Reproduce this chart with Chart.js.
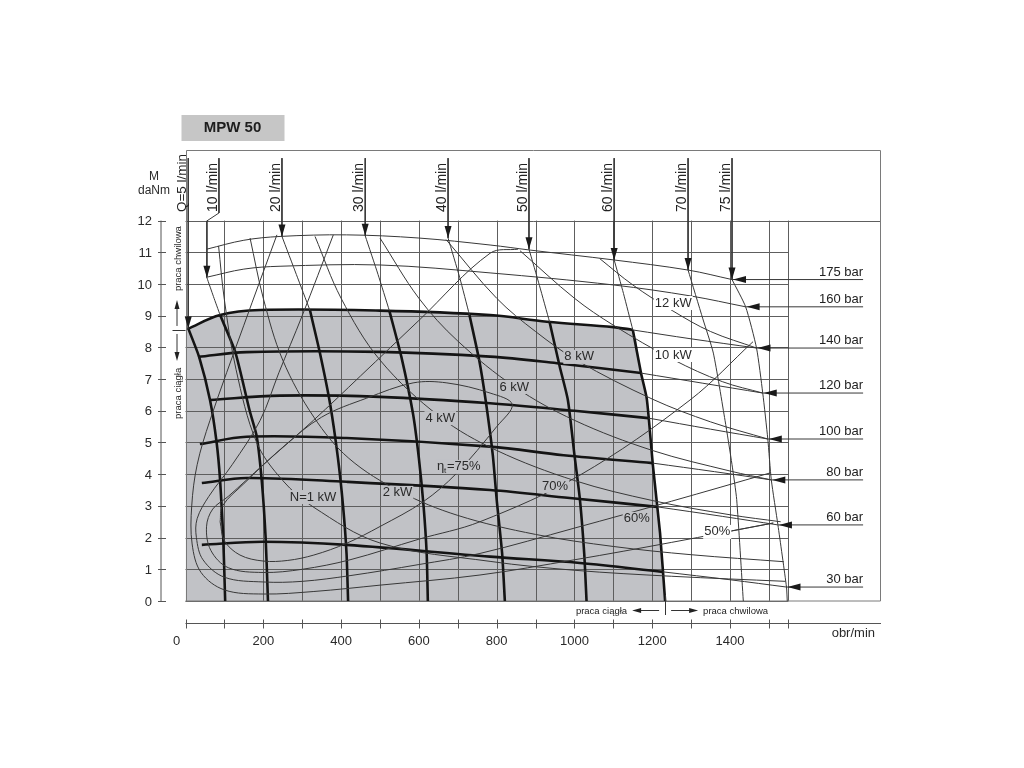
<!DOCTYPE html>
<html>
<head>
<meta charset="utf-8">
<title>MPW 50</title>
<script src="https://cdn.jsdelivr.net/npm/chart.js@4.4.0/dist/chart.umd.min.js"></script>
<style>
  html, body { margin: 0; padding: 0; background: #fff; }
  #wrap { width: 1024px; height: 768px; }
</style>
</head>
<body>
<div id="wrap"><canvas id="myChart" width="1024" height="768"></canvas></div>
<script>
// osie (obr/min, daNm)
var xTicks = [0, 200, 400, 600, 800, 1000, 1200, 1400];
var xGrid = [0, 100, 200, 300, 400, 500, 600, 700, 800, 900, 1000, 1100, 1200, 1300, 1400, 1500, 1550];
var yTicks = [0, 1, 2, 3, 4, 5, 6, 7, 8, 9, 10, 11, 12];

// obszar pracy ciągłej (szary)
var ciaglaArea = [[0, 0], [0, 8.55], [5, 8.58], [89, 9.02], [192, 9.18], [500, 9.16], [783, 9.02], [929, 8.81], [1100, 8.64], [1150, 8.55], [1171, 7.19], [1186, 6.37], [1202, 4.23], [1220, 2.14], [1233, 0]];

// linie ciśnienia
var barLabels = ['175 bar', '160 bar', '140 bar', '120 bar', '100 bar', '80 bar', '60 bar', '30 bar'];
var barEnds = [[1405, 10.14], [1440, 9.28], [1468, 7.98], [1484, 6.56], [1497, 5.11], [1506, 3.82], [1523, 2.4], [1545, 0.44]];
var barLineEnd = 1742;
var p175 = [[55, 11.1], [150, 11.38], [243, 11.5], [414, 11.55], [600, 11.45], [783, 11.23], [886, 11.07], [1100, 10.76], [1292, 10.44], [1405, 10.14]];
var p160 = [[57, 10.22], [150, 10.47], [243, 10.56], [500, 10.6], [783, 10.35], [1100, 9.97], [1300, 9.62], [1440, 9.28]];
var p140Bold = [[5, 8.58], [89, 9.02], [192, 9.18], [500, 9.16], [783, 9.02], [929, 8.81], [1100, 8.64], [1150, 8.55]];
var p140Thin = [[1150, 8.55], [1300, 8.27], [1468, 7.98]];
var p120Bold = [[32, 7.7], [157, 7.85], [500, 7.86], [783, 7.71], [955, 7.5], [1171, 7.19]];
var p120Thin = [[1171, 7.19], [1330, 6.87], [1484, 6.56]];
var p100Bold = [[63, 6.34], [243, 6.48], [500, 6.44], [783, 6.24], [1000, 6.0], [1190, 5.77]];
var p100Thin = [[1190, 5.77], [1350, 5.42], [1497, 5.11]];
var p80Bold = [[37, 4.95], [157, 5.18], [414, 5.14], [783, 4.87], [972, 4.6], [1201, 4.35]];
var p80Thin = [[1201, 4.35], [1360, 4.08], [1506, 3.82]];
var p60Bold = [[42, 3.72], [157, 3.88], [414, 3.76], [783, 3.5], [988, 3.25], [1213, 2.97]];
var p60Thin = [[1213, 2.97], [1380, 2.67], [1523, 2.4]];
var p30Bold = [[42, 1.77], [199, 1.87], [414, 1.77], [783, 1.4], [1014, 1.2], [1227, 0.92]];
var p30Thin = [[1227, 0.92], [1400, 0.67], [1545, 0.44]];

// linie przepływu
var qLabels = ['Q=5 l/min', '10 l/min', '20 l/min', '30 l/min', '40 l/min', '50 l/min', '60 l/min', '70 l/min', '75 l/min'];
var qTips = [[7, 8.6], [55, 10.2], [248, 11.5], [462, 11.52], [675, 11.45], [883, 11.1], [1102, 10.76], [1292, 10.44], [1405, 10.14]];
var qLeaderTop = 13.97;
var qLabelBase = 12.27;
var q10Leader = [[86, 13.97], [86, 12.24], [55, 11.99], [55, 10.2]];
var q5Bold = [[7, 8.6], [35, 7.7], [63, 6.34], [80, 5.0], [89, 3.8], [97, 2.0], [102, 0]];
var q10Thin = [[55, 10.2], [72, 9.6], [89, 9.02]];
var q10Bold = [[89, 9.02], [128, 7.85], [165, 6.0], [183, 5.2], [196, 3.8], [206, 2.0], [212, 0]];
var q20Thin = [[248, 11.5], [285, 10.3], [320, 9.17]];
var q20Bold = [[320, 9.17], [346, 7.8], [372, 6.2], [392, 4.5], [405, 3.0], [414, 1.5], [418, 0]];
var q30Thin = [[462, 11.52], [495, 10.3], [524, 9.16]];
var q30Bold = [[524, 9.16], [555, 7.7], [585, 5.9], [600, 4.5], [612, 3.0], [620, 1.5], [623, 0]];
var q40Thin = [[675, 11.45], [705, 10.2], [730, 9.02]];
var q40Bold = [[730, 9.02], [755, 7.6], [772, 6.3], [790, 4.6], [800, 3.2], [814, 1.5], [821, 0]];
var q50Thin = [[883, 11.1], [910, 9.95], [936, 8.8]];
var q50Bold = [[936, 8.8], [962, 7.4], [983, 6.34], [1000, 4.6], [1014, 3.2], [1025, 1.5], [1031, 0]];
var q60Thin = [[1102, 10.76], [1126, 9.7], [1150, 8.55]];
var q60Bold = [[1150, 8.55], [1171, 7.19], [1186, 6.37], [1202, 4.23], [1220, 2.14], [1233, 0]];
var q70Thin = [[1292, 10.44], [1330, 8.9], [1357, 7.82], [1387, 5.7], [1405, 4.3], [1417, 3.2], [1434, 0]];
var q75Thin = [[1405, 10.14], [1440, 9.28], [1468, 7.98], [1484, 6.56], [1497, 5.11], [1506, 3.82], [1523, 2.4], [1545, 0.44], [1547, 0]];

// linie mocy N [kW]
var kwLabels = ['N=1 kW', '2 kW', '4 kW', '6 kW', '8 kW', '10 kW', '12 kW'];
var kwLabelAt = [[328, 3.28], [545, 3.41], [655, 5.77], [845, 6.75], [1012, 7.7], [1254, 7.76], [1254, 9.4]];
var n1 = [[85, 11.2], [100, 9.5], [130, 7.3], [183, 5.0], [250, 3.8], [328, 2.97], [500, 1.83], [783, 1.25], [1000, 0.97], [1250, 0.78], [1543, 0.62]];
var n2 = [[166, 11.45], [200, 9.55], [250, 7.6], [330, 5.8], [420, 4.5], [552, 3.45], [700, 2.7], [900, 2.1], [1100, 1.72], [1300, 1.46], [1538, 1.24]];
var n4 = [[333, 11.5], [400, 9.55], [500, 7.6], [655, 5.8], [800, 4.75], [1000, 3.8], [1200, 3.17], [1400, 2.72], [1530, 2.5]];
var n6 = [[500, 11.45], [600, 9.55], [700, 8.2], [847, 6.75], [1000, 5.7], [1200, 4.75], [1400, 4.1], [1506, 3.82]];
var n8 = [[670, 11.4], [800, 9.55], [900, 8.5], [1009, 7.57], [1200, 6.37], [1350, 5.65], [1497, 5.11]];
var n10 = [[860, 11.05], [1000, 9.55], [1100, 8.7], [1253, 7.62], [1380, 6.92], [1484, 6.56]];
var n12 = [[1065, 10.8], [1150, 9.97], [1253, 9.15], [1350, 8.5], [1468, 7.98]];

// sprawność całkowita
var etaLabels = ['75%', '70%', '60%', '50%'];
var etaLabelAt = [[708, 4.23], [950, 3.63], [1160, 2.59], [1367, 2.18]];
var eta75 = [[89, 2.5], [95, 3.0], [150, 3.7], [250, 4.85], [350, 5.8], [466, 6.4], [585, 6.88], [672, 6.88], [783, 6.56], [840, 6.2], [800, 5.5], [697, 4.03], [611, 3.13], [500, 2.35], [414, 1.82], [330, 1.45], [263, 1.28], [200, 1.26], [140, 1.45], [100, 1.9], [89, 2.5]];
var eta70 = [[855, 11.1], [783, 10.97], [600, 8.85], [450, 7.1], [329, 5.7], [200, 4.3], [110, 3.3], [70, 2.9], [54, 2.34], [65, 1.6], [110, 1.05], [200, 0.9], [300, 1.0], [423, 1.3], [600, 1.95], [757, 2.5], [1014, 3.97], [1297, 6.34], [1459, 8.18]];
var eta60 = [[380, 11.55], [300, 9.0], [240, 7.2], [192, 5.7], [120, 4.3], [60, 3.3], [30, 2.6], [28, 2.0], [45, 1.3], [100, 0.75], [200, 0.6], [300, 0.62], [423, 0.8], [600, 1.15], [757, 1.5], [1000, 2.3], [1250, 3.15], [1503, 4.04]];
var eta50 = [[235, 11.55], [150, 8.7], [63, 5.7], [30, 4.3], [16, 3.0], [17, 1.8], [40, 0.9], [100, 0.35], [200, 0.22], [330, 0.3], [500, 0.5], [757, 0.82], [1000, 1.3], [1250, 1.85], [1511, 2.46]];
var eta50Leader = [[1403, 2.21], [1511, 2.46]];

function pts(a) {
    return a.map(function (p) { return { x: p[0], y: p[1] }; });
}

var datasets = [];
datasets.push({ data: pts(ciaglaArea), fill: 'origin', backgroundColor: '#c1c2c6', borderWidth: 0, order: 1, tension: 0.25 });

function addLine(a, bold, tension) {
    datasets.push({
        data: pts(a),
        borderColor: bold ? '#141414' : '#383838',
        borderWidth: bold ? 2.6 : 1,
        tension: tension === undefined ? 0.35 : tension,
        fill: false
    });
}

// cienkie linie (moc, sprawność)
[n1, n2, n4, n6, n8, n10, n12].forEach(function (a) { addLine(a, false); });
[eta75, eta70, eta60, eta50].forEach(function (a) { addLine(a, false); });
addLine(eta50Leader, false, 0);

// ciśnienie
[p175, p160, p140Thin, p120Thin, p100Thin, p80Thin, p60Thin, p30Thin].forEach(function (a) { addLine(a, false); });
barEnds.forEach(function (e) { addLine([e, [barLineEnd, e[1]]], false, 0); });

// przepływ
[q10Thin, q20Thin, q30Thin, q40Thin, q50Thin, q60Thin, q70Thin, q75Thin].forEach(function (a) { addLine(a, false, 0.2); });
qTips.forEach(function (t, i) {
    if (i === 1) { addLine(q10Leader, false, 0); }
    else { addLine([[t[0], qLeaderTop], t], false, 0); }
});

// pogrubione - praca ciągła
[p140Bold, p120Bold, p100Bold, p80Bold, p60Bold, p30Bold].forEach(function (a) { addLine(a, true); });
[q5Bold, q10Bold, q20Bold, q30Bold, q40Bold, q50Bold, q60Bold].forEach(function (a) { addLine(a, true, 0.2); });

function grayTop(x) {
    if (x < 0 || x > 1233) return -1;
    for (var i = 1; i < ciaglaArea.length; i++) {
        var a = ciaglaArea[i - 1], b = ciaglaArea[i];
        if (x >= a[0] && x <= b[0] && b[0] > a[0]) {
            return a[1] + (b[1] - a[1]) * (x - a[0]) / (b[0] - a[0]);
        }
    }
    return -1;
}

var FONT = '"Liberation Sans", Arial, sans-serif';

var decor = {
    id: 'decor',
    afterDatasetDraw: function (chart, args) {
        if (args.index !== 0) return;
        var ctx = chart.ctx, X = chart.scales.x, Y = chart.scales.y, ca = chart.chartArea;
        ctx.save();
        ctx.strokeStyle = '#5e5e5e';
        ctx.lineWidth = 1;
        ctx.beginPath();
        xGrid.forEach(function (v) {
            var px = Math.round(X.getPixelForValue(v)) + 0.5;
            ctx.moveTo(px, Y.getPixelForValue(0));
            ctx.lineTo(px, Y.getPixelForValue(12));
        });
        yTicks.forEach(function (v) {
            var py = Math.round(Y.getPixelForValue(v)) + 0.5;
            ctx.moveTo(X.getPixelForValue(0), py);
            ctx.lineTo(v === 12 ? ca.right : X.getPixelForValue(1550), py);
        });
        ctx.stroke();
        // ramka
        ctx.strokeStyle = '#7a7a7a';
        ctx.beginPath();
        ctx.moveTo(Math.round(ca.left) + 0.5, Y.getPixelForValue(0));
        ctx.lineTo(Math.round(ca.left) + 0.5, ca.top + 0.5);
        ctx.lineTo(ca.right - 0.5, ca.top + 0.5);
        ctx.lineTo(ca.right - 0.5, Y.getPixelForValue(0));
        ctx.lineTo(ca.left, Y.getPixelForValue(0));
        ctx.stroke();
        ctx.restore();
    },
    afterDraw: function (chart) {
        var ctx = chart.ctx, X = chart.scales.x, Y = chart.scales.y, ca = chart.chartArea;
        var x0 = X.getPixelForValue(0), y0 = Y.getPixelForValue(0);
        ctx.save();
        ctx.fillStyle = '#222';
        ctx.strokeStyle = '#333';
        ctx.lineWidth = 1;

        // tytuł
        ctx.fillStyle = '#c6c6c6';
        ctx.fillRect(x0 - 4, ca.top - 35, 103, 26);
        ctx.fillStyle = '#1e1e1e';
        ctx.font = 'bold 15px ' + FONT;
        ctx.textAlign = 'center';
        ctx.textBaseline = 'middle';
        ctx.fillText('MPW 50', x0 + 47, ca.top - 22);

        // oś Y
        var ax = x0 - 24.5;
        ctx.strokeStyle = '#555';
        ctx.beginPath();
        ctx.moveTo(ax, Y.getPixelForValue(12));
        ctx.lineTo(ax, y0);
        yTicks.forEach(function (v) {
            var py = Math.round(Y.getPixelForValue(v)) + 0.5;
            ctx.moveTo(ax - 3, py);
            ctx.lineTo(ax + 5, py);
        });
        ctx.stroke();
        ctx.fillStyle = '#2a2a2a';
        ctx.font = '13px ' + FONT;
        ctx.textAlign = 'right';
        yTicks.forEach(function (v) {
            ctx.fillText(String(v), ax - 9, Y.getPixelForValue(v) + 1);
        });
        ctx.textAlign = 'center';
        ctx.font = '12px ' + FONT;
        ctx.fillText('M', ax - 7, ca.top + 27);
        ctx.fillText('daNm', ax - 7, ca.top + 41);

        // oś X
        var bx = y0 + 22.5;
        ctx.beginPath();
        ctx.moveTo(x0, bx);
        ctx.lineTo(ca.right, bx);
        xGrid.forEach(function (v) {
            var px = Math.round(X.getPixelForValue(v)) + 0.5;
            ctx.moveTo(px, bx - 4);
            ctx.lineTo(px, bx + 5);
        });
        ctx.stroke();
        ctx.font = '13px ' + FONT;
        xTicks.forEach(function (v) {
            ctx.fillText(String(v), X.getPixelForValue(v) - (v === 0 ? 9 : 0), bx + 18);
        });
        ctx.textAlign = 'right';
        ctx.fillText('obr/min', ca.right - 6, bx + 10);

        // praca ciągła / chwilowa (dół)
        var split = X.getPixelForValue(1233);
        ctx.strokeStyle = '#333';
        ctx.beginPath();
        ctx.moveTo(Math.round(split) + 0.5, y0 - 6);
        ctx.lineTo(Math.round(split) + 0.5, y0 + 14);
        ctx.moveTo(split - 6, y0 + 9.5);
        ctx.lineTo(split - 28, y0 + 9.5);
        ctx.moveTo(split + 6, y0 + 9.5);
        ctx.lineTo(split + 28, y0 + 9.5);
        ctx.stroke();
        ctx.fillStyle = '#222';
        ctx.beginPath();
        ctx.moveTo(split - 33, y0 + 9.5); ctx.lineTo(split - 24, y0 + 7); ctx.lineTo(split - 24, y0 + 12); ctx.closePath();
        ctx.moveTo(split + 33, y0 + 9.5); ctx.lineTo(split + 24, y0 + 7); ctx.lineTo(split + 24, y0 + 12); ctx.closePath();
        ctx.fill();
        ctx.font = '9.5px ' + FONT;
        ctx.textAlign = 'right';
        ctx.fillText('praca ciągła', split - 38, y0 + 10);
        ctx.textAlign = 'left';
        ctx.fillText('praca chwilowa', split + 38, y0 + 10);

        // praca chwilowa / ciągła (lewo)
        var sx = x0 - 8.5, sy = Y.getPixelForValue(8.55);
        ctx.beginPath();
        ctx.moveTo(x0 - 13, Math.round(sy) + 0.5);
        ctx.lineTo(x0, Math.round(sy) + 0.5);
        ctx.moveTo(sx, sy - 4); ctx.lineTo(sx, sy - 22);
        ctx.moveTo(sx, sy + 4); ctx.lineTo(sx, sy + 24);
        ctx.stroke();
        ctx.beginPath();
        ctx.moveTo(sx, sy - 30); ctx.lineTo(sx - 2.5, sy - 21); ctx.lineTo(sx + 2.5, sy - 21); ctx.closePath();
        ctx.moveTo(sx, sy + 31); ctx.lineTo(sx - 2.5, sy + 22); ctx.lineTo(sx + 2.5, sy + 22); ctx.closePath();
        ctx.fill();
        ctx.font = '9.5px ' + FONT;
        ctx.textAlign = 'center';
        ctx.textBaseline = 'middle';
        ctx.save();
        ctx.translate(sx + 1, Y.getPixelForValue(10.8));
        ctx.rotate(-Math.PI / 2);
        ctx.fillText('praca chwilowa', 0, 0);
        ctx.restore();
        ctx.save();
        ctx.translate(sx + 1, Y.getPixelForValue(6.55));
        ctx.rotate(-Math.PI / 2);
        ctx.fillText('praca ciągła', 0, 0);
        ctx.restore();

        // strzałki przepływu + opisy
        ctx.fillStyle = '#1a1a1a';
        qTips.forEach(function (t, i) {
            var px = X.getPixelForValue(t[0]), py = Y.getPixelForValue(t[1]);
            ctx.beginPath();
            ctx.moveTo(px, py);
            ctx.lineTo(px - 3.5, py - 12);
            ctx.lineTo(px + 3.5, py - 12);
            ctx.closePath();
            ctx.fill();
            var lx = i === 1 ? X.getPixelForValue(q10Leader[0][0]) : px;
            ctx.save();
            ctx.translate(lx - 6, Y.getPixelForValue(qLabelBase));
            ctx.rotate(-Math.PI / 2);
            ctx.font = (i === 0 ? '13.5px ' : '14px ') + FONT;
            ctx.textAlign = 'left';
            ctx.textBaseline = 'middle';
            ctx.fillStyle = '#222';
            ctx.fillText(qLabels[i], 0, 0);
            ctx.restore();
        });

        // strzałki ciśnienia + opisy
        ctx.font = '13px ' + FONT;
        ctx.textAlign = 'right';
        ctx.textBaseline = 'alphabetic';
        barEnds.forEach(function (e, i) {
            var px = X.getPixelForValue(e[0]), py = Y.getPixelForValue(e[1]);
            ctx.fillStyle = '#1a1a1a';
            ctx.beginPath();
            ctx.moveTo(px + 1, py);
            ctx.lineTo(px + 14, py - 3.5);
            ctx.lineTo(px + 14, py + 3.5);
            ctx.closePath();
            ctx.fill();
            ctx.fillStyle = '#222';
            ctx.fillText(barLabels[i], X.getPixelForValue(barLineEnd), py - 4);
        });

        // opisy mocy i sprawności
        function tag(text, v, parts) {
            var px = X.getPixelForValue(v[0]), py = Y.getPixelForValue(v[1]);
            ctx.font = '13px ' + FONT;
            var w = parts ? 48 : ctx.measureText(text).width;
            ctx.fillStyle = grayTop(v[0]) > v[1] ? '#c1c2c6' : '#ffffff';
            ctx.fillRect(px - w / 2 - 1, py - 7, w + 2, 14);
            ctx.fillStyle = '#2a2a2a';
            ctx.textBaseline = 'middle';
            if (parts) {
                ctx.textAlign = 'left';
                var sx0 = px - w / 2;
                ctx.fillText('η', sx0, py);
                ctx.font = '8px ' + FONT;
                ctx.fillText('t', sx0 + 7, py + 4);
                ctx.font = '13px ' + FONT;
                ctx.fillText('=' + text, sx0 + 10, py);
            } else {
                ctx.textAlign = 'center';
                ctx.fillText(text, px, py);
            }
        }
        kwLabels.forEach(function (t, i) { tag(t, kwLabelAt[i], false); });
        etaLabels.forEach(function (t, i) { tag(t, etaLabelAt[i], i === 0); });

        ctx.restore();
    }
};

var ctx = document.getElementById('myChart').getContext('2d');
var myChart = new Chart(ctx, {
    type: 'scatter',
    data: { datasets: datasets },
    options: {
        responsive: false,
        animation: false,
        events: [],
        showLine: true,
        elements: { point: { radius: 0 } },
        layout: { padding: { left: 185.5, right: 143, top: 150, bottom: 167 } },
        scales: {
            x: { type: 'linear', min: 0, max: 1788, display: false },
            y: { type: 'linear', min: 0, max: 14.227, display: false }
        },
        plugins: { legend: { display: false }, tooltip: { enabled: false } }
    },
    plugins: [decor]
});
</script>
</body>
</html>
